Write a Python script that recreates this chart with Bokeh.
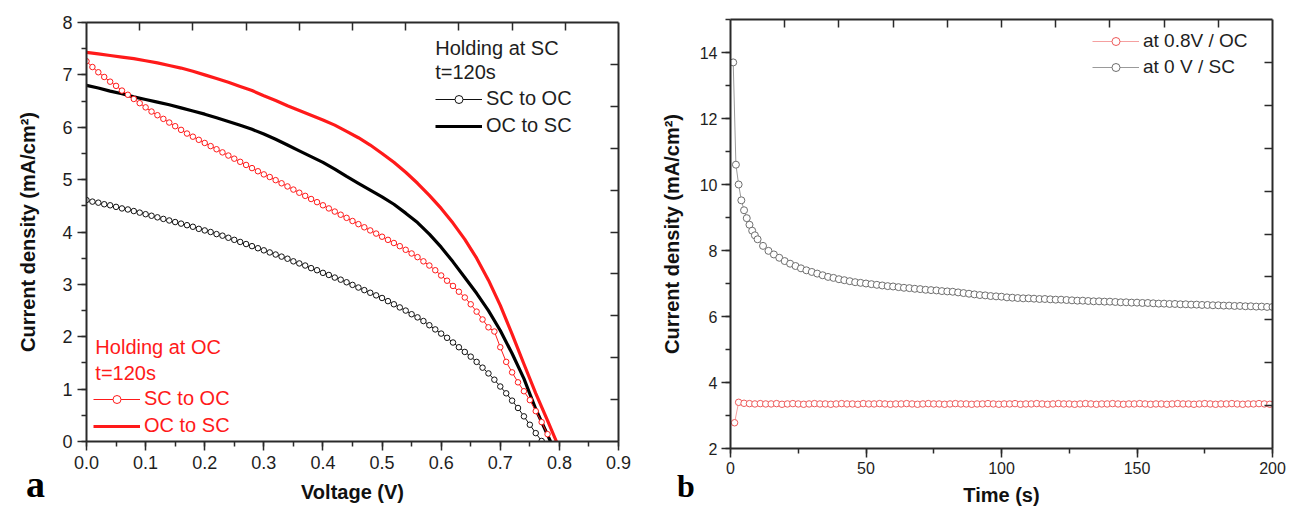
from bokeh.plotting import figure
from bokeh.layouts import row, column
from bokeh.models import (Range1d, LinearAxis, SingleIntervalTicker, FixedTicker,
                          PrintfTickFormatter, Legend, LegendItem, Label, Div)
from bokeh.embed import file_html
from bokeh.resources import INLINE

# ---------------- panel a: J-V curves ----------------
# SC to OC sweep after holding at SC (black open circles)
v_sc_to_oc_hsc = [round(0.01 * i, 2) for i in range(78)]
j_sc_to_oc_hsc = [4.61, 4.58, 4.56, 4.53, 4.51, 4.48, 4.45, 4.43, 4.40, 4.37,
                  4.34, 4.31, 4.28, 4.25, 4.22, 4.19, 4.16, 4.13, 4.10, 4.06,
                  4.03, 4.00, 3.96, 3.93, 3.89, 3.85, 3.81, 3.77, 3.73, 3.69,
                  3.65, 3.61, 3.57, 3.53, 3.49, 3.44, 3.40, 3.36, 3.31, 3.27,
                  3.22, 3.18, 3.13, 3.09, 3.04, 2.99, 2.94, 2.89, 2.84, 2.79,
                  2.74, 2.68, 2.62, 2.56, 2.50, 2.43, 2.37, 2.30, 2.22, 2.14,
                  2.06, 1.98, 1.89, 1.80, 1.71, 1.62, 1.52, 1.41, 1.30, 1.18,
                  1.05, 0.92, 0.78, 0.64, 0.48, 0.32, 0.16, 0.01]

# SC to OC sweep after holding at OC (red open circles)
v_sc_to_oc_hoc = [round(0.01 * i, 2) for i in range(79)]
j_sc_to_oc_hoc = [7.26, 7.15, 7.05, 6.96, 6.87, 6.79, 6.70, 6.62, 6.54, 6.46,
                  6.38, 6.30, 6.23, 6.16, 6.09, 6.02, 5.95, 5.88, 5.82, 5.76,
                  5.70, 5.64, 5.58, 5.52, 5.46, 5.40, 5.34, 5.28, 5.22, 5.16,
                  5.10, 5.05, 4.99, 4.93, 4.87, 4.81, 4.75, 4.69, 4.63, 4.57,
                  4.51, 4.45, 4.39, 4.33, 4.27, 4.21, 4.15, 4.09, 4.03, 3.97,
                  3.91, 3.85, 3.79, 3.73, 3.66, 3.59, 3.52, 3.44, 3.36, 3.27,
                  3.17, 3.07, 2.97, 2.86, 2.75, 2.62, 2.48, 2.33, 2.18, 2.10,
                  1.80, 1.52, 1.32, 1.13, 0.96, 0.79, 0.58, 0.37, 0.14]

# OC to SC sweep after holding at OC (thick red line)
v_oc_to_sc_hoc = [0.00, 0.02, 0.04, 0.06, 0.08, 0.10, 0.12, 0.14, 0.16, 0.18,
                  0.20, 0.22, 0.24, 0.26, 0.28, 0.30, 0.32, 0.34, 0.36, 0.38,
                  0.40, 0.42, 0.44, 0.46, 0.48, 0.50, 0.52, 0.54, 0.56, 0.58,
                  0.60, 0.62, 0.64, 0.66, 0.68, 0.70, 0.72, 0.74, 0.76, 0.78, 0.795]
j_oc_to_sc_hoc = [7.43, 7.40, 7.37, 7.34, 7.31, 7.27, 7.23, 7.18, 7.13, 7.07,
                  7.00, 6.93, 6.86, 6.78, 6.70, 6.60, 6.51, 6.41, 6.32, 6.23,
                  6.14, 6.04, 5.92, 5.80, 5.66, 5.50, 5.33, 5.14, 4.93, 4.70,
                  4.45, 4.17, 3.86, 3.50, 3.08, 2.60, 2.05, 1.48, 0.92, 0.40, 0.00]

# OC to SC sweep after holding at SC (thick black line)
v_oc_to_sc_hsc = [0.00, 0.02, 0.04, 0.06, 0.08, 0.10, 0.12, 0.14, 0.16, 0.18,
                  0.20, 0.22, 0.24, 0.26, 0.28, 0.30, 0.32, 0.34, 0.36, 0.38,
                  0.40, 0.42, 0.44, 0.46, 0.48, 0.50, 0.52, 0.54, 0.56, 0.58,
                  0.60, 0.62, 0.64, 0.66, 0.68, 0.70, 0.72, 0.74, 0.76, 0.785]
j_oc_to_sc_hsc = [6.80, 6.75, 6.69, 6.64, 6.58, 6.53, 6.48, 6.43, 6.37, 6.31,
                  6.25, 6.18, 6.11, 6.04, 5.96, 5.87, 5.77, 5.66, 5.55, 5.44,
                  5.33, 5.20, 5.06, 4.93, 4.80, 4.67, 4.53, 4.36, 4.18, 3.96,
                  3.71, 3.43, 3.13, 2.83, 2.50, 2.12, 1.68, 1.20, 0.62, 0.00]

# ---------------- panel b: current vs time ----------------
t_sc = list(range(1, 11)) + list(range(12, 201, 2))
j_sc = [13.70, 10.60, 10.00, 9.52, 9.22, 8.98, 8.78, 8.60, 8.46, 8.34,
        8.14, 7.99, 7.88, 7.78, 7.68, 7.60, 7.53, 7.46, 7.40, 7.35,
        7.30, 7.25, 7.20, 7.17, 7.13, 7.10, 7.07, 7.04, 7.02, 7.00,
        6.98, 6.96, 6.94, 6.92, 6.91, 6.89, 6.87, 6.86, 6.84, 6.83,
        6.81, 6.80, 6.79, 6.77, 6.76, 6.75, 6.73, 6.71, 6.69, 6.67,
        6.65, 6.64, 6.62, 6.61, 6.60, 6.58, 6.57, 6.56, 6.55, 6.55,
        6.54, 6.53, 6.53, 6.52, 6.51, 6.51, 6.50, 6.49, 6.48, 6.48,
        6.47, 6.46, 6.46, 6.45, 6.45, 6.44, 6.43, 6.43, 6.42, 6.42,
        6.41, 6.41, 6.40, 6.39, 6.39, 6.38, 6.38, 6.37, 6.37, 6.36,
        6.36, 6.35, 6.35, 6.34, 6.34, 6.33, 6.33, 6.32, 6.32, 6.31,
        6.31, 6.30, 6.30, 6.29, 6.29]

t_oc = [1.5] + list(range(3, 200, 2))
j_oc = [2.78, 3.40, 3.37, 3.36, 3.35, 3.36, 3.35, 3.35, 3.36, 3.34,
        3.35, 3.36, 3.35, 3.34, 3.35, 3.36, 3.35, 3.35, 3.34, 3.35,
        3.36, 3.35, 3.35, 3.34, 3.36, 3.35, 3.35, 3.36, 3.35, 3.34,
        3.35, 3.35, 3.36, 3.35, 3.34, 3.35, 3.36, 3.35, 3.35, 3.34,
        3.35, 3.36, 3.35, 3.35, 3.34, 3.35, 3.35, 3.36, 3.35, 3.34,
        3.35, 3.35, 3.36, 3.34, 3.35, 3.35, 3.36, 3.35, 3.34, 3.35,
        3.36, 3.35, 3.35, 3.34, 3.35, 3.36, 3.35, 3.34, 3.35, 3.35,
        3.36, 3.35, 3.34, 3.35, 3.35, 3.36, 3.35, 3.34, 3.35, 3.35,
        3.34, 3.35, 3.36, 3.35, 3.35, 3.34, 3.35, 3.36, 3.35, 3.34,
        3.35, 3.35, 3.36, 3.35, 3.34, 3.35, 3.35, 3.36, 3.35, 3.34]

FONT = "Liberation Sans"
AX = "#2a2a2a"
TXT = "#1e1e1e"
RED = "#ff1a1a"


def base_fig(width, height, xr, yr, borders):
    p = figure(width=width, height=height, x_range=Range1d(*xr), y_range=Range1d(*yr),
               output_backend="svg", toolbar_location=None,
               min_border_left=borders[0], min_border_right=borders[1],
               min_border_top=borders[2], min_border_bottom=borders[3])
    p.grid.visible = False
    p.outline_line_color = None
    p.background_fill_color = "white"
    p.border_fill_color = "white"
    return p


def style_main(ax, tick_size, label_size, tick_standoff, label_standoff):
    ax.axis_line_color = AX
    ax.axis_line_width = 2
    ax.major_tick_line_color = AX
    ax.minor_tick_line_color = AX
    ax.major_tick_line_width = 1.5
    ax.minor_tick_line_width = 1.5
    ax.major_tick_in = 0
    ax.major_tick_out = 9
    ax.minor_tick_in = 0
    ax.minor_tick_out = 5
    ax.major_label_text_font = FONT
    ax.major_label_text_font_size = tick_size
    ax.major_label_text_color = TXT
    ax.major_label_standoff = tick_standoff
    ax.axis_label_text_font = FONT
    ax.axis_label_text_font_style = "bold"
    ax.axis_label_text_font_size = label_size
    ax.axis_label_text_color = "#111111"
    ax.axis_label_standoff = label_standoff


def add_mirrors(p):
    ticks = list(range(1, 10))
    p.extra_x_ranges = {"top": Range1d(0, 10)}
    p.extra_y_ranges = {"right": Range1d(0, 10)}
    top = LinearAxis(x_range_name="top", ticker=FixedTicker(ticks=ticks))
    right = LinearAxis(y_range_name="right", ticker=FixedTicker(ticks=ticks))
    for ax in (top, right):
        ax.axis_line_color = AX
        ax.axis_line_width = 2
        ax.major_tick_in = 8
        ax.major_tick_out = 0
        ax.major_tick_line_color = AX
        ax.major_tick_line_width = 1.5
        ax.minor_tick_in = 0
        ax.minor_tick_out = 0
        ax.major_label_overrides = {t: "" for t in ticks}
        ax.major_label_standoff = 0
    p.add_layout(top, "above")
    p.add_layout(right, "right")


# ================= panel a =================
p1 = base_fig(648, 511, (0, 0.9), (0, 8), (86, 30, 22, 70))
p1.xaxis.ticker = SingleIntervalTicker(interval=0.1, num_minor_ticks=2)
p1.xaxis.formatter = PrintfTickFormatter(format="%.1f")
p1.yaxis.ticker = SingleIntervalTicker(interval=1, num_minor_ticks=2)
p1.xaxis.axis_label = "Voltage (V)"
p1.yaxis.axis_label = "Current density (mA/cm²)"
style_main(p1.xaxis[0], "18px", "20px", 5, 9)
style_main(p1.yaxis[0], "18px", "20px", 5, 20)
add_mirrors(p1)

r_red_solid = p1.line(v_oc_to_sc_hoc, j_oc_to_sc_hoc, line_color=RED, line_width=3.2)
r_blk_solid = p1.line(v_oc_to_sc_hsc, j_oc_to_sc_hsc, line_color="#000000", line_width=3.2)
r_red_line = p1.line(v_sc_to_oc_hoc, j_sc_to_oc_hoc, line_color=RED, line_width=1)
r_red_pts = p1.scatter(v_sc_to_oc_hoc, j_sc_to_oc_hoc, marker="circle", size=5.5,
                       line_color=RED, fill_color="white", line_width=1)
r_blk_line = p1.line(v_sc_to_oc_hsc, j_sc_to_oc_hsc, line_color="#111111", line_width=1)
r_blk_pts = p1.scatter(v_sc_to_oc_hsc, j_sc_to_oc_hsc, marker="circle", size=5.5,
                       line_color="#111111", fill_color="white", line_width=1)

legend_kw = dict(glyph_width=47, glyph_height=20, label_standoff=4, spacing=4,
                 padding=0, margin=0, border_line_alpha=0, background_fill_alpha=0,
                 label_text_font=FONT)

leg_sc = Legend(items=[LegendItem(label="SC to OC", renderers=[r_blk_line, r_blk_pts]),
                       LegendItem(label="OC to SC", renderers=[r_blk_solid])],
                location=(349, 304), label_text_color=TXT, label_text_font_size="20px",
                **legend_kw)
leg_oc = Legend(items=[LegendItem(label="SC to OC", renderers=[r_red_line, r_red_pts]),
                       LegendItem(label="OC to SC", renderers=[r_red_solid])],
                location=(7, 4), label_text_color=RED, label_text_font_size="20px",
                **legend_kw)
p1.add_layout(leg_sc)
p1.add_layout(leg_oc)

for txt, x, y, col in [("Holding at SC", 0.59, 7.52, TXT), ("t=120s", 0.59, 7.05, TXT),
                       ("Holding at OC", 0.015, 1.80, RED), ("t=120s", 0.015, 1.30, RED)]:
    p1.add_layout(Label(x=x, y=y, text=txt, text_baseline="middle", text_align="left",
                        text_font=FONT, text_font_size="20px", text_color=col))

# ================= panel b =================
p2 = base_fig(641, 511, (0, 200), (2, 15), (82, 17, 19, 63))
p2.xaxis.ticker = SingleIntervalTicker(interval=50, num_minor_ticks=2)
p2.yaxis.ticker = SingleIntervalTicker(interval=2, num_minor_ticks=2)
p2.xaxis.axis_label = "Time (s)"
p2.yaxis.axis_label = "Current density (mA/cm²)"
style_main(p2.xaxis[0], "16px", "20px", 4, 7)
style_main(p2.yaxis[0], "16px", "20px", 4, 14)
add_mirrors(p2)

r_g_line = p2.line(t_sc, j_sc, line_color="#9a9a9a", line_width=1)
r_g_pts = p2.scatter(t_sc, j_sc, marker="circle", size=7, line_color="#6e6e6e",
                     fill_color="white", line_width=1)
r_p_line = p2.line(t_oc, j_oc, line_color="#f5a0a0", line_width=1)
r_p_pts = p2.scatter(t_oc, j_oc, marker="circle", size=6.5, line_color="#ee5a5a",
                     fill_color="white", line_width=1)

leg_b = Legend(items=[LegendItem(label="at 0.8V / OC", renderers=[r_p_line, r_p_pts]),
                      LegendItem(label="at 0 V / SC", renderers=[r_g_line, r_g_pts])],
               location=(362, 370), label_text_color=TXT, label_text_font_size="19px",
               **legend_kw)
p2.add_layout(leg_b)

# ================= panel letters (overlaid below the plots) =================
letter_style = {"font-family": "Liberation Serif", "font-weight": "bold",
                "line-height": "1", "color": "#000000"}
div_a = Div(text="a", width=40, height=40, margin=(-46, 0, 0, 26),
            styles=dict(letter_style, **{"font-size": "38px"}))
div_b = Div(text="b", width=40, height=40, margin=(-41, 0, 0, 611),
            styles=dict(letter_style, **{"font-size": "32px"}))

layout = column(row(column(p1), column(p2)), row(div_a, div_b))
open("out.html", "w").write(file_html(layout, INLINE, title="J-V and transient"))
